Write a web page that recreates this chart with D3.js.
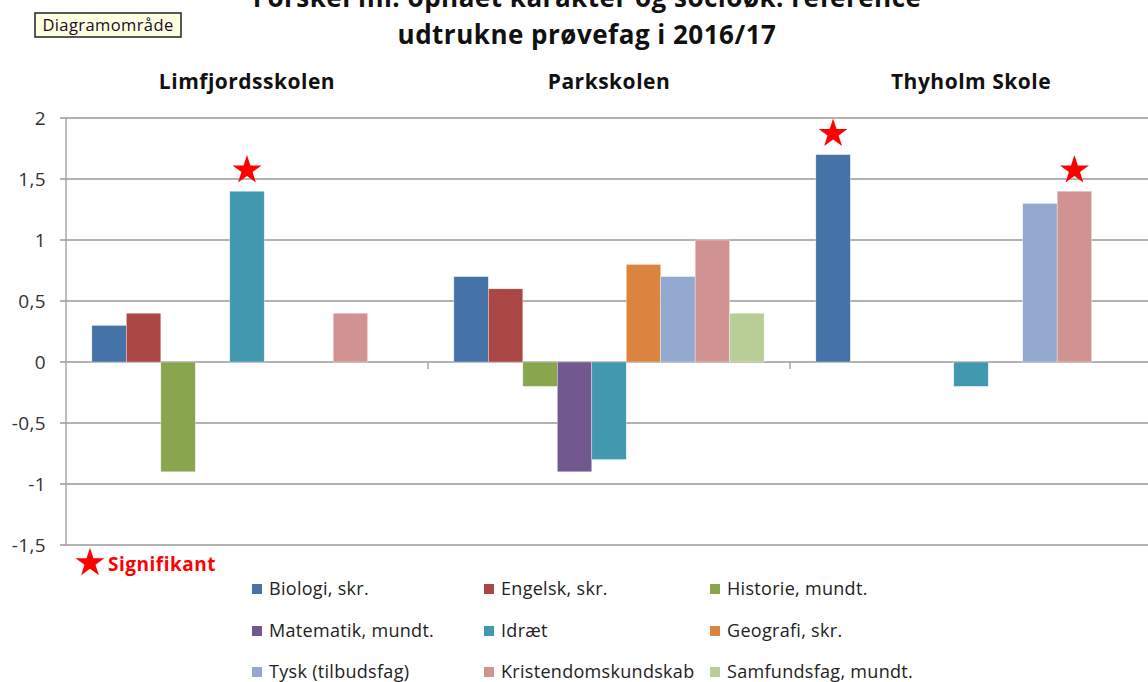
<!DOCTYPE html>
<html>
<head>
<meta charset="utf-8">
<script src="https://cdn.jsdelivr.net/npm/d3@7"></script>
<style>
  body { margin: 0; background: #fff; }
  svg { display: block; font-family: "Open Sans", Lato, sans-serif; }
</style>
</head>
<body>
<svg></svg>
<script>
// schools and subjects
var schools = ["Limfjordsskolen", "Parkskolen", "Thyholm Skole"]
var subjects = ["Biologi, skr.", "Engelsk, skr.", "Historie, mundt.",
                "Matematik, mundt.", "Idræt", "Geografi, skr.",
                "Tysk (tilbudsfag)", "Kristendomskundskab", "Samfundsfag, mundt."]
var colors = ["#4572A7", "#AA4643", "#89A54E", "#71588F", "#4198AF",
              "#DB843D", "#93A9CF", "#D19392", "#B9CD96"]

// one array per school, in subject order (null = not drawn)
var limfjordValues = [0.3, 0.4, -0.9, null, 1.4, null, null, 0.4, null]
var parkValues     = [0.7, 0.6, -0.2, -0.9, -0.8, 0.8, 0.7, 1.0, 0.4]
var thyholmValues  = [1.7, null, null, null, -0.2, null, 1.3, 1.4, null]

var yTicks = [2, 1.5, 1, 0.5, 0, -0.5, -1, -1.5]

// significant results [school, subject]
var significant = [["Limfjordsskolen", "Idræt"],
                   ["Thyholm Skole", "Biologi, skr."],
                   ["Thyholm Skole", "Kristendomskundskab"]]

var screen = {width: 1148, height: 682}
var margins = {top: 118, left: 66, right: -4, bottom: 137}

var allValues = [limfjordValues, parkValues, thyholmValues]

var data = []
schools.forEach(function(s, i) {
    subjects.forEach(function(sub, j) {
        if (allValues[i][j] != null)
            data.push({school: s, subject: sub, value: allValues[i][j], color: colors[j]})
    })
})

var svg = d3.select("svg")
    .attr("width", screen.width)
    .attr("height", screen.height)

var width = screen.width - margins.left - margins.right
var height = screen.height - margins.top - margins.bottom

var x0 = d3.scaleBand().domain(schools).range([0, width]).padding(0)
var gap = x0.bandwidth() * 1.5 / (subjects.length + 1.5)
var x1 = d3.scaleBand().domain(subjects).range([gap / 2, x0.bandwidth() - gap / 2]).padding(0)
var y = d3.scaleLinear().domain([-1.5, 2]).range([height, 0])

var g = svg.append("g").attr("transform", "translate(" + margins.left + "," + margins.top + ")")

// gridlines
g.selectAll(".grid").data(yTicks).enter().append("line")
    .attr("x1", -6).attr("x2", width)
    .attr("y1", function(d) { return y(d) }).attr("y2", function(d) { return y(d) })
    .attr("stroke", "#9a9a9a").attr("stroke-width", 1.3)

// y axis line
g.append("line").attr("x1", 0).attr("x2", 0).attr("y1", 0).attr("y2", height)
    .attr("stroke", "#9a9a9a").attr("stroke-width", 1.3)

g.selectAll(".ylab").data(yTicks).enter().append("text")
    .attr("x", -20).attr("y", function(d) { return y(d) })
    .attr("dy", "0.35em").attr("text-anchor", "end")
    .attr("font-size", 19).attr("letter-spacing", 0.4).attr("fill", "#333")
    .text(function(d) { return String(d).replace(".", ",") })

// category ticks on the zero line
g.selectAll(".ctick").data(schools.slice(1)).enter().append("line")
    .attr("x1", function(d) { return x0(d) }).attr("x2", function(d) { return x0(d) })
    .attr("y1", y(0)).attr("y2", y(0) + 7)
    .attr("stroke", "#9a9a9a").attr("stroke-width", 1.3)

// bars
g.selectAll(".bar").data(data).enter().append("rect")
    .attr("x", function(d) { return x0(d.school) + x1(d.subject) })
    .attr("width", x1.bandwidth())
    .attr("y", function(d) { return y(Math.max(0, d.value)) })
    .attr("height", function(d) { return Math.abs(y(d.value) - y(0)) })
    .attr("fill", function(d) { return d.color })
    .attr("stroke", "rgba(255,255,255,0.6)").attr("stroke-width", 0.6)

// school labels
g.selectAll(".school").data(schools).enter().append("text")
    .attr("x", function(d) { return x0(d) + x0.bandwidth() / 2 })
    .attr("y", -29)
    .attr("text-anchor", "middle").attr("font-size", 21).attr("letter-spacing", 0.5)
    .attr("font-weight", "bold").attr("fill", "#111")
    .text(function(d) { return d })

var star = d3.symbol().type(d3.symbolStar).size(260)

g.selectAll(".star").data(significant).enter().append("path")
    .attr("d", star)
    .attr("fill", "#ff0000")
    .attr("transform", function(d) {
        var v = allValues[schools.indexOf(d[0])][subjects.indexOf(d[1])]
        var cx = x0(d[0]) + x1(d[1]) + x1.bandwidth() / 2
        return "translate(" + cx + "," + (y(v) - 21) + ")"
    })

// title (first line is cut by the top edge, as in the original)
svg.append("text").attr("x", 587).attr("y", 7).attr("text-anchor", "middle")
    .attr("font-size", 26).attr("letter-spacing", 0.5).attr("font-weight", "bold").attr("fill", "#111")
    .text("Forskel ml. opnået karakter og socioøk. reference")
svg.append("text").attr("x", 587).attr("y", 44).attr("text-anchor", "middle")
    .attr("font-size", 26).attr("letter-spacing", 0.5).attr("font-weight", "bold").attr("fill", "#111")
    .text("udtrukne prøvefag i 2016/17")

// tooltip box
var tip = svg.append("g").attr("transform", "translate(35,13)")
tip.append("rect").attr("width", 146).attr("height", 24)
    .attr("fill", "#ffffe1").attr("stroke", "#222").attr("stroke-width", 1.5)
tip.append("text").attr("x", 73).attr("y", 18).attr("text-anchor", "middle")
    .attr("font-size", 16.5).attr("letter-spacing", 0.4).attr("fill", "#1a0a2a").text("Diagramområde")

// signifikant note
svg.append("path").attr("d", star).attr("fill", "#ff0000")
    .attr("transform", "translate(90,563)")
svg.append("text").attr("x", 108).attr("y", 571)
    .attr("font-size", 19).attr("letter-spacing", 0.5).attr("font-weight", "bold").attr("fill", "#ff0000")
    .text("Signifikant")

// legend
var legX = [252, 484, 710]
var legY = [589, 631, 672]
var leg = svg.selectAll(".leg").data(subjects).enter().append("g")
    .attr("transform", function(d, i) { return "translate(" + legX[i % 3] + "," + legY[Math.floor(i / 3)] + ")" })
leg.append("rect").attr("x", 0).attr("y", -5).attr("width", 10).attr("height", 10)
    .attr("fill", function(d, i) { return colors[i] })
leg.append("text").attr("x", 17).attr("y", 0).attr("dy", "0.35em")
    .attr("font-size", 18).attr("letter-spacing", 0.3).attr("fill", "#222")
    .text(function(d) { return d })
</script>
</body>
</html>
